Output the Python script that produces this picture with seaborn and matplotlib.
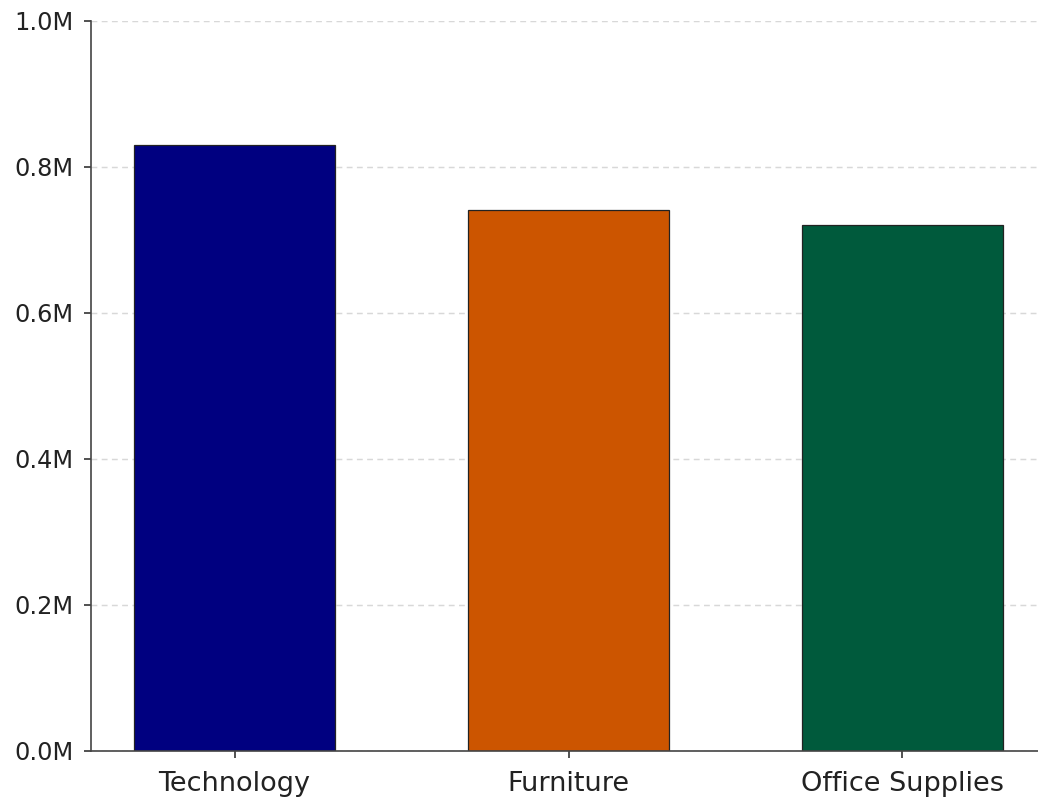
import matplotlib
matplotlib.use('Agg')
import matplotlib.pyplot as plt
import seaborn as sns
import pandas as pd
from matplotlib.ticker import FuncFormatter

# Data
categories = ['Technology', 'Furniture', 'Office Supplies']
sales = [830000, 741000, 720500]
colors = ['#000080', '#CC5500', '#005A3C']

df = pd.DataFrame({'Category': categories, 'Sales': sales})

sns.set_style('white')
plt.rcParams['font.family'] = ['DejaVu Sans']

fig = plt.figure(figsize=(1038 / 150, 798 / 150), dpi=150)
ax = fig.add_axes([91 / 1038, 47 / 798, 955 / 1038, 730 / 798])

sns.barplot(data=df, x='Category', y='Sales', hue='Category', palette=colors,
            legend=False, width=0.6, edgecolor='#222222', linewidth=0.6,
            saturation=1, ax=ax)

ax.set_xlim(-0.43, 2.43)
ax.set_ylim(0, 1000000)
ax.set_yticks([0, 200000, 400000, 600000, 800000, 1000000])
ax.yaxis.set_major_formatter(FuncFormatter(lambda v, p: f'{v / 1e6:.1f}M'))
ax.grid(axis='y', linestyle=(0, (4, 3)), color='#d8d8d8', linewidth=0.7)
ax.set_axisbelow(True)
ax.set_xlabel('')
ax.set_ylabel('')
ax.tick_params(axis='both', length=3.5, width=0.8, colors='#333333',
               labelcolor='#222222', bottom=True, left=True)
ax.tick_params(axis='y', labelsize=11.5, pad=5)
ax.tick_params(axis='x', labelsize=13, pad=6)
for s in ['top', 'right']:
    ax.spines[s].set_visible(False)
for s in ['left', 'bottom']:
    ax.spines[s].set_color('#444444')
    ax.spines[s].set_linewidth(0.8)

fig.savefig('out.png', dpi=150)
